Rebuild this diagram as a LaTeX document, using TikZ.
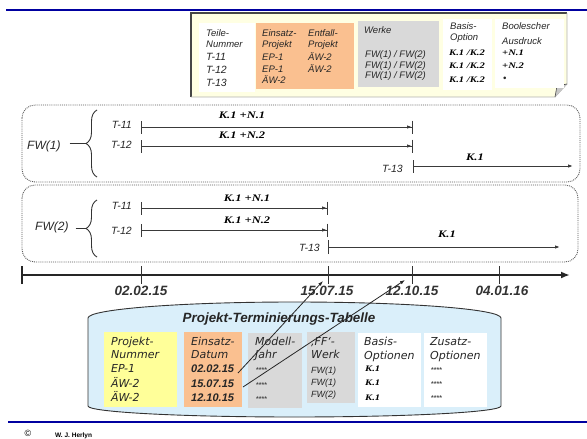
\documentclass[tikz,border=0pt]{standalone}
\usepackage{fontspec}
\setmainfont{Liberation Sans}
\newfontfamily\dv{DejaVu Sans}
\newfontfamily\kf{Liberation Serif}[FakeStretch=1.25]
\usetikzlibrary{arrows.meta,decorations.pathreplacing}
\definecolor{topblue}{HTML}{0000A0}
\definecolor{legfill}{HTML}{FFFFE3}
\definecolor{orangec}{HTML}{FAC090}
\definecolor{grayc}{HTML}{D9D9D9}
\definecolor{yellowc}{HTML}{FFFF99}
\definecolor{cylblue}{HTML}{DAEFFA}
\definecolor{tlc}{HTML}{3A3A3A}
\tikzset{
  fwl/.style={font=\fontsize{12}{12}\selectfont\itshape, anchor=base west, inner sep=0, text=black!85},
  tlab/.style={font=\fontsize{10.5}{10.5}\selectfont\itshape, anchor=base east, inner sep=0, text=black!85},
  kl/.style={font=\kf\fontsize{10}{10}\selectfont\bfseries\itshape, anchor=base, inner sep=0},
  klsm/.style={font=\kf\fontsize{8.5}{8.5}\selectfont\bfseries\itshape, anchor=base west, inner sep=0},
  lg/.style={font=\fontsize{9.5}{9.5}\selectfont\itshape, anchor=base west, inner sep=0, text=black!85},
  lgb/.style={font=\fontsize{10.5}{10.5}\selectfont\itshape, anchor=base west, inner sep=0, text=black!85},
  dt/.style={font=\fontsize{13.5}{13.5}\selectfont\bfseries\itshape, anchor=base, inner sep=0, text=black!80},
  tb/.style={font=\dv\fontsize{11}{11}\selectfont\itshape, anchor=base west, inner sep=0, text=black!85},
  tbd/.style={font=\fontsize{11}{11}\selectfont\bfseries\itshape, anchor=base west, inner sep=0, text=black!85},
  tbs/.style={font=\fontsize{9}{9}\selectfont\itshape, anchor=base west, inner sep=0, text=black!85},
  stars/.style={font=\fontsize{7}{7}\selectfont\bfseries, anchor=base west, inner sep=0, text=black!70},
  seg/.style={draw=tlc, line width=1pt},
  fwbox/.style={draw=gray!70!black, densely dotted, line width=0.9pt, rounded corners=13pt},
  brc/.style={draw=black!80, line width=0.9pt, decorate, decoration={brace, amplitude=11pt}},
  bluel/.style={draw=topblue, line width=2.4pt},
}
\begin{document}
\begin{tikzpicture}[x=1pt,y=-1pt]
\useasboundingbox (0,0) rectangle (587,439);
% blue lines
\coordinate (bl1) at (6,10); \coordinate (bl2) at (587,10);
\draw[bluel] (bl1) -- (bl2);
\coordinate (bl3) at (8,422); \coordinate (bl4) at (587,422);
\draw[bluel] (bl3) -- (bl4);

% legend box
\fill[legfill] (191,13) -- (567,13) -- (567,84) -- (555,97) -- (191,97) -- cycle;
\draw[gray!55!black, line width=1.4pt] (191,97) -- (191,13) -- (567,13);
\draw[gray!60, line width=0.8pt] (567,13) -- (567,84) -- (555,97) -- (191,97);
\fill[gray!45] (555,97) -- (557,86) -- (567,84) -- cycle;
\draw[gray!60!black, line width=0.6pt] (555,97) -- (557,86) -- (567,84);
\fill[white] (199,23) rectangle (255,92);
\fill[orangec] (256,23) rectangle (354,89);
\fill[grayc] (358,21) rectangle (439,87);
\fill[white] (443,19) rectangle (492,90);
\fill[white] (495,19) rectangle (564,88);

\node[lg] (lt1) at (206,36) {Teile-};
\node[lg] (lt2) at (206,47) {Nummer};
\node[lgb] (lt3) at (206,60) {T-11};
\node[lgb] (lt4) at (206,73) {T-12};
\node[lgb] (lt5) at (206,86) {T-13};
\node[lg] (le1) at (262,36) {Einsatz-};
\node[lg] (le2) at (262,47) {Projekt};
\node[lg] (le3) at (262,60) {EP-1};
\node[lg] (le4) at (262,72) {EP-1};
\node[lg] (le5) at (262,83) {ÄW-2};
\node[lg] (lf1) at (308,36) {Entfall-};
\node[lg] (lf2) at (308,47) {Projekt};
\node[lg] (lf3) at (308,60) {ÄW-2};
\node[lg] (lf4) at (308,72) {ÄW-2};
\node[lg] (lw1) at (364,33) {Werke};
\node[lg] (lw2) at (365,57) {FW(1) / FW(2)};
\node[lg] (lw3) at (365,68) {FW(1) / FW(2)};
\node[lg] (lw4) at (365,78) {FW(1) / FW(2)};
\node[lg] (lb1) at (450,30) {Basis-};
\node[lg] (lb2) at (450,41) {Option};
\node[klsm] (lb3) at (449,56) {K.1 /K.2};
\node[klsm] (lb4) at (449,68) {K.1 /K.2};
\node[klsm] (lb5) at (449,82) {K.1 /K.2};
\node[lg] (lo1) at (502,30) {Boolescher};
\node[lg] (lo2) at (502,45) {Ausdruck};
\node[klsm] (lo3) at (502,56) {+N.1};
\node[klsm] (lo4) at (502,68) {+N.2};
\node[lg] (lo5) at (503,81) {•};

% FW(1) box
\draw[fwbox] (22,105) rectangle (580,182);
\node[fwl] (fw1) at (27,149) {FW(1)};
\coordinate (br1a) at (97,177); \coordinate (br1b) at (97,110);
\draw[brc] (br1a) -- (br1b);
\coordinate (br1t) at (86,143);
\draw[black!80, line width=0.9pt] (fw1.east |- br1t) ++(9,0) -- (br1t);
\node[tlab] (t11a) at (132,128) {T-11};
\node[tlab] (t12a) at (132,148) {T-12};
\node[tlab] (t13a) at (403,172) {T-13};
\coordinate (a1s) at (141,127); \coordinate (a1e) at (413,127);
\coordinate (a2s) at (141,146); \coordinate (a2e) at (413,146);
\coordinate (a3s) at (413,166); \coordinate (a3e) at (573,166);
\draw[seg, {Bar[width=13pt]}-{Latex[length=5pt,width=3.5pt]Bar[width=13pt]}] (a1s) -- (a1e);
\draw[seg, {Bar[width=13pt]}-{Latex[length=5pt,width=3.5pt]Bar[width=13pt]}] (a2s) -- (a2e);
\draw[seg, {Bar[width=13pt]}-{Latex[length=5pt,width=3.5pt]}] (a3s) -- (a3e);
\node[kl] (k1a) at (242,118) {K.1 +N.1};
\node[kl] (k2a) at (242,138) {K.1 +N.2};
\node[kl] (k3a) at (475,160) {K.1};

% FW(2) box
\draw[fwbox] (22,185) rectangle (578,262);
\node[fwl] (fw2) at (35,230) {FW(2)};
\coordinate (br2a) at (97,257); \coordinate (br2b) at (97,200);
\draw[brc] (br2a) -- (br2b);
\coordinate (br2t) at (86,228);
\draw[black!80, line width=0.9pt] (fw2.east |- br2t) ++(7,0) -- (br2t);
\node[tlab] (t11b) at (132,209) {T-11};
\node[tlab] (t12b) at (132,234) {T-12};
\node[tlab] (t13b) at (320,251) {T-13};
\coordinate (b1s) at (141,208); \coordinate (b1e) at (328,208);
\coordinate (b2s) at (141,230); \coordinate (b2e) at (328,230);
\coordinate (b3s) at (328,247); \coordinate (b3e) at (560,247);
\draw[seg, {Bar[width=13pt]}-{Latex[length=5pt,width=3.5pt]Bar[width=13pt]}] (b1s) -- (b1e);
\draw[seg, {Bar[width=13pt]}-{Latex[length=5pt,width=3.5pt]Bar[width=13pt]}] (b2s) -- (b2e);
\draw[seg, {Bar[width=14pt]}-{Latex[length=5pt,width=3.5pt]}] (b3s) -- (b3e);
\node[kl] (k1b) at (247,201) {K.1 +N.1};
\node[kl] (k2b) at (247,223) {K.1 +N.2};
\node[kl] (k3b) at (447,237) {K.1};

% timeline
\coordinate (tl0) at (21,275); \coordinate (tl1) at (570,275);
\draw[black!85, line width=1.8pt, {Bar[width=18pt]}-{Latex[length=9pt,width=7pt]}] (tl0) -- (tl1);
\coordinate (d1) at (141,275); \coordinate (d2) at (328,275);
\coordinate (d3) at (412,275); \coordinate (d4) at (499,275);
\foreach \d in {d1,d2,d3,d4}{\draw[black!80, line width=1pt] (\d) ++(0,-9) -- ++(0,18);}
\node[dt] (dl1) at (141,295) {02.02.15};
\node[dt] (dl2) at (327,295) {15.07.15};
\node[dt] (dl3) at (412,295) {12.10.15};
\node[dt] (dl4) at (502,295) {04.01.16};

% cylinder
\draw[draw=black!80, line width=0.9pt, fill=cylblue] (88,318) arc[start angle=180,end angle=360,x radius=206.5,y radius=16] -- (501,406) arc[start angle=0,end angle=180,x radius=206.5,y radius=11] -- cycle;
\node[font=\fontsize{13.4}{13.4}\selectfont\bfseries\itshape, anchor=base, inner sep=0, text=black!85] (title) at (279,322) {Projekt-Terminierungs-Tabelle};
\fill[yellowc] (104,332) rectangle (177,407);
\fill[orangec] (184,332) rectangle (242,407);
\fill[grayc] (248,333) rectangle (302,408);
\fill[grayc] (307,332) rectangle (355,403);
\fill[white] (358,333) rectangle (421,407);
\fill[white] (424,333) rectangle (487,407);

\node[tb] (p1) at (111,345) {Projekt-};
\node[tb] (p2) at (111,358) {Nummer};
\node[tb] (p3) at (111,372) {EP-1};
\node[tb] (p4) at (111,387) {ÄW-2};
\node[tb] (p5) at (111,401) {ÄW-2};
\node[tb] (e1) at (191,345) {Einsatz-};
\node[tb] (e2) at (191,358) {Datum};
\node[tbd] (td1) at (191,372) {02.02.15};
\node[tbd] (td2) at (191,387) {15.07.15};
\node[tbd] (td3) at (191,401) {12.10.15};
\node[tb] (m1) at (255,345) {Modell-};
\node[tb] (m2) at (255,358) {Jahr};
\node[stars] (m3) at (256,372) {****};
\node[stars] (m4) at (256,387) {****};
\node[stars] (m5) at (256,401) {****};
\node[tb] (f1) at (311,345) {‚FF‘-};
\node[tb] (f2) at (311,358) {Werk};
\node[tbs] (f3) at (311,373) {FW(1)};
\node[tbs] (f4) at (311,385) {FW(1)};
\node[tbs] (f5) at (311,397) {FW(2)};
\node[tb] (o1) at (364,345) {Basis-};
\node[tb] (o2) at (364,359) {Optionen};
\node[klsm] (o3) at (365,371) {K.1};
\node[klsm] (o4) at (365,385) {K.1};
\node[klsm] (o5) at (365,400) {K.1};
\node[tb] (z1) at (430,345) {Zusatz-};
\node[tb] (z2) at (430,359) {Optionen};
\node[stars] (z3) at (431,372) {****};
\node[stars] (z4) at (431,386) {****};
\node[stars] (z5) at (431,400) {****};

% connectors from table to timeline
\coordinate (s1) at (238,373); \coordinate (e1t) at (323,281);
\coordinate (s2) at (243,387); \coordinate (e2t) at (405,280);
\draw[black!85, line width=0.8pt, -{Latex[length=5pt,width=3.5pt]}] (s1) -- (e1t);
\draw[black!85, line width=0.8pt, -{Latex[length=5pt,width=3.5pt]}] (s2) -- (e2t);

% footer
\node[font=\fontsize{9}{9}\selectfont, inner sep=0] (copy) at (28,433) {©};
\node[font=\fontsize{6.5}{6.5}\selectfont\bfseries, anchor=base west, inner sep=0] (auth) at (55,437) {W. J. Herlyn};
\end{tikzpicture}
\end{document}
